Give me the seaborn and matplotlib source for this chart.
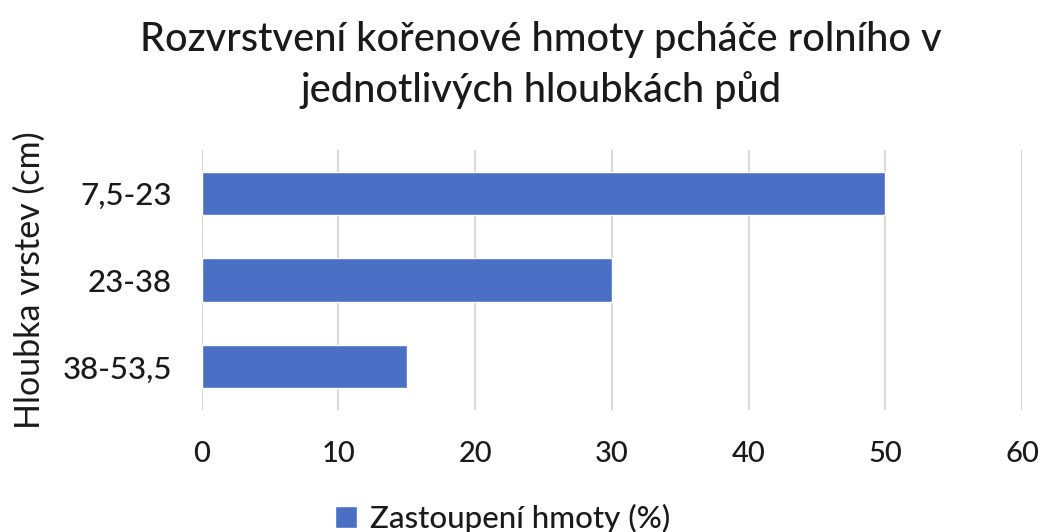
import matplotlib
matplotlib.use("Agg")
import matplotlib.pyplot as plt
import seaborn as sns
import pandas as pd
from matplotlib.patches import Patch

categories = ["7,5-23", "23-38", "38-53,5"]
values = [50, 30, 15]
series_name = "Zastoupení hmoty (%)"
x_ticks = [0, 10, 20, 30, 40, 50, 60]

sns.set_theme(style="white")
plt.rcParams['font.family'] = ['Lato', 'DejaVu Sans']
plt.rcParams['font.weight'] = 'medium'

df = pd.DataFrame({"depth": categories, "value": values})

fig = plt.figure(figsize=(10.45, 5.32), dpi=100)
ax = fig.add_axes([0.193, 0.229, 0.785, 0.489])
color = "#4a6fc4"
sns.barplot(data=df, y="depth", x="value", orient="h", color=color,
            width=0.5, ax=ax, saturation=1, zorder=3)
ax.set_xlim(0, 60)
ax.set_ylim(2.5, -0.5)
ax.set_xticks(x_ticks)
ax.set_xticklabels([str(t) for t in x_ticks])
ax.xaxis.grid(True, color="#d9d9d9", linewidth=1.5, zorder=0)
ax.set_axisbelow(True)
for s in ax.spines.values():
    s.set_visible(False)
ax.tick_params(axis="x", length=0, pad=22, labelsize=21, colors="#1a1a1a")
ax.tick_params(axis="y", length=0, pad=21.5, labelsize=22.5, colors="#1a1a1a")
ax.set_xlabel("")
ax.set_ylabel("Hloubka vrstev (cm)", fontsize=24.5, color="#1a1a1a", labelpad=12)

fig.text(0.518, 0.925, "Rozvrstvení kořenové hmoty pcháče rolního v",
         ha="center", va="center", fontsize=28.5, color="#1a1a1a")
fig.text(0.518, 0.83, "jednotlivých hloubkách půd",
         ha="center", va="center", fontsize=28.5, color="#1a1a1a")

fig.legend(handles=[Patch(facecolor=color, label=series_name)],
           loc="center", bbox_to_anchor=(0.481, 0.026), frameon=False,
           fontsize=22.5, handlelength=0.7, handleheight=0.7, handletextpad=0.4,
           labelcolor="#1a1a1a")

fig.savefig("out.png", dpi=100)
